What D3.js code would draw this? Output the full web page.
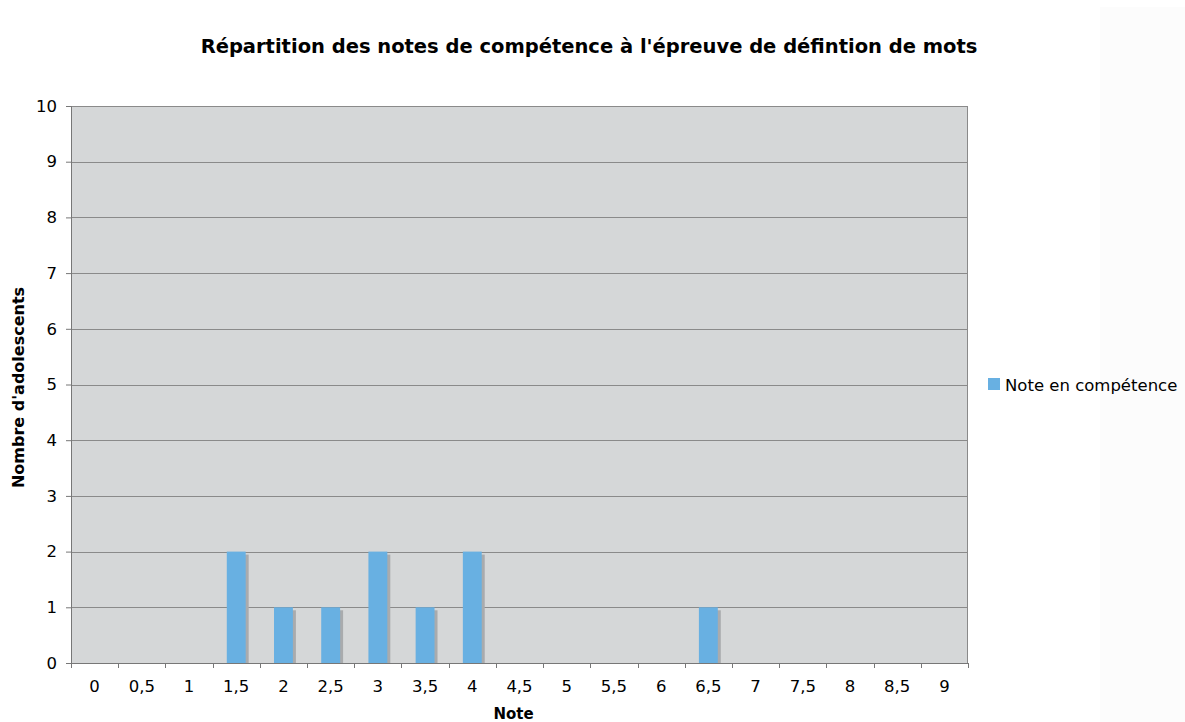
<!DOCTYPE html>
<html>
<head>
<meta charset="utf-8">
<script src="https://cdn.jsdelivr.net/npm/d3@7"></script>
<style>
  body { margin: 0; background: #fff; }
  text { font-family: "DejaVu Sans", Verdana, sans-serif; fill: #000; }
</style>
</head>
<body>
<script>
// data
var notes = ["0","0,5","1","1,5","2","2,5","3","3,5","4","4,5","5","5,5","6","6,5","7","7,5","8","8,5","9"];
var effectifs = [0,0,0,2,1,1,2,1,2,0,0,0,0,1,0,0,0,0,0];
var yTicks = [0,1,2,3,4,5,6,7,8,9,10];

var W = 1185, H = 722;
var margin = {top: 106, right: 217, bottom: 59, left: 71},
    width = W - margin.left - margin.right,
    height = H - margin.top - margin.bottom;

var root = d3.select("body").append("svg")
    .attr("width", W)
    .attr("height", H);

// faint strip on the right
root.append("rect")
    .attr("x", 1100).attr("y", 7)
    .attr("width", 85).attr("height", H - 7)
    .attr("fill", "#fcfcfc");

var svg = root.append("g")
    .attr("transform", "translate(" + margin.left + "," + margin.top + ")");

var x = d3.scaleBand()
  .domain(notes)
  .range([0, width]);

var y = d3.scaleLinear()
  .domain([0, 10])
  .range([height, 0]);

// only the non empty bars
var barres = notes.map(function(n, i) { return {note: n, val: effectifs[i]}; })
  .filter(function(d) { return d.val > 0; });

// plot background
svg.append("rect")
  .attr("width", width)
  .attr("height", height)
  .attr("fill", "#d5d7d8");

// gridlines
svg.selectAll(".grid")
  .data(yTicks)
  .enter()
  .append("line")
    .attr("x1", 0).attr("x2", width)
    .attr("y1", function(d) { return Math.round(y(d)) + 0.5; })
    .attr("y2", function(d) { return Math.round(y(d)) + 0.5; })
    .attr("stroke", "#8a8a8a")
    .attr("stroke-width", 1);

// right border
svg.append("line")
  .attr("x1", width - 0.5).attr("x2", width - 0.5)
  .attr("y1", 0).attr("y2", height)
  .attr("stroke", "#8a8a8a");

var bw = x.bandwidth() * 0.4;

// shadows
svg.selectAll(".shadow")
  .data(barres)
  .enter()
  .append("rect")
    .attr("x", function(d) { return x(d.note) + (x.bandwidth() - bw) / 2 + 3; })
    .attr("y", function(d) { return y(d.val) + 3; })
    .attr("width", bw)
    .attr("height", function(d) { return height - y(d.val) - 3; })
    .attr("fill", "#a9abad");

// bars
svg.selectAll(".bar")
  .data(barres)
  .enter()
  .append("rect")
    .attr("x", function(d) { return x(d.note) + (x.bandwidth() - bw) / 2; })
    .attr("y", function(d) { return y(d.val); })
    .attr("width", bw)
    .attr("height", function(d) { return height - y(d.val); })
    .attr("fill", "#68b0e2");

// y axis
var yAxis = svg.append("g")
  .call(d3.axisLeft(y).tickValues(yTicks).tickSize(5).tickPadding(9));
yAxis.selectAll("text").style("font-size", "16.5px");
yAxis.select(".domain").attr("stroke", "#777");
yAxis.selectAll(".tick line").attr("stroke", "#777");

// x axis, ticks on category boundaries
var xAxis = svg.append("g")
  .attr("transform", "translate(0," + height + ")")
  .call(d3.axisBottom(x).tickSize(0).tickPadding(17));
xAxis.selectAll("text").style("font-size", "16.5px");
xAxis.select(".domain").attr("stroke", "#777");

xAxis.selectAll(".sep")
  .data(d3.range(notes.length + 1))
  .enter()
  .append("line")
    .attr("x1", function(i) { return Math.round(i * x.step()) + 0.5; })
    .attr("x2", function(i) { return Math.round(i * x.step()) + 0.5; })
    .attr("y1", 0).attr("y2", 5)
    .attr("stroke", "#777");

// title
root.append("text")
  .attr("x", 589).attr("y", 53)
  .attr("text-anchor", "middle")
  .style("font-size", "19.5px")
  .style("font-weight", "bold")
  .text("Répartition des notes de compétence à l'épreuve de défintion de mots");

// axis titles
root.append("text")
  .attr("x", margin.left + width / 2 - 6).attr("y", 719)
  .attr("text-anchor", "middle")
  .style("font-size", "15px")
  .style("font-weight", "bold")
  .text("Note");

root.append("text")
  .attr("transform", "translate(24," + (margin.top + height / 2 + 3) + ")rotate(-90)")
  .attr("text-anchor", "middle")
  .style("font-size", "16px")
  .style("font-weight", "bold")
  .text("Nombre d'adolescents");

// legend
root.append("rect")
  .attr("x", 988).attr("y", 378)
  .attr("width", 12).attr("height", 12)
  .attr("fill", "#68b0e2");
root.append("text")
  .attr("x", 1005).attr("y", 391)
  .style("font-size", "16.5px")
  .text("Note en compétence");
</script>
</body>
</html>
